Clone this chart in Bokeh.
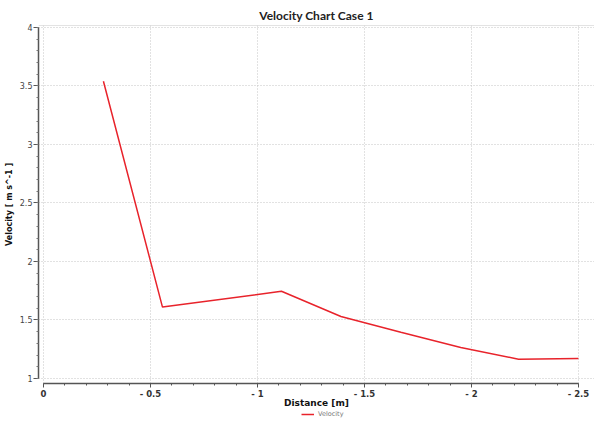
from bokeh.plotting import figure
from bokeh.layouts import column
from bokeh.models import Range1d, FixedTicker, Legend, LegendItem, Span
from bokeh.embed import file_html
from bokeh.resources import INLINE

# Data
distance = [-0.28, -0.556, -1.112, -1.39, -1.67, -1.95, -2.22, -2.5]
velocity = [3.54, 1.61, 1.745, 1.53, 1.395, 1.265, 1.165, 1.17]

x_ticks = [0, -0.5, -1.0, -1.5, -2.0, -2.5]
x_tick_labels = ["0", "- 0.5", "- 1", "- 1.5", "- 2", "- 2.5"]
x_minor = [-0.1 * i for i in range(26)]
y_ticks = [1, 1.5, 2, 2.5, 3, 3.5, 4]
y_minor = [1 + 0.1 * i for i in range(31)]
series_name = "Velocity"

p = figure(width=594, height=410, output_backend="svg", toolbar_location=None,
           x_range=Range1d(0.0234, -2.575), y_range=Range1d(0.957, 4.017),
           min_border_left=38, min_border_right=0, min_border_top=25, min_border_bottom=27)

p.title.text = "Velocity Chart Case 1"
p.title.align = "center"
p.title.vertical_align = "middle"
p.title.text_font = "Lato"
p.title.text_font_size = "12px"
p.title.text_font_style = "bold"
p.title.text_color = "#222222"
p.title.offset = 6
p.title.standoff = 4

p.outline_line_color = None
p.background_fill_color = "white"
p.border_fill_color = "white"

top_line = Span(location=4.017, dimension="width", line_color="#c8c8c8", line_width=1)
p.add_layout(top_line)

# grid
p.xgrid.ticker = FixedTicker(ticks=x_ticks)
p.ygrid.ticker = FixedTicker(ticks=y_ticks)
for g in (p.xgrid, p.ygrid):
    g.grid_line_color = "#c4c4c4"
    g.grid_line_dash = "1 2"
    g.grid_line_width = 1

# x axis
xa = p.xaxis[0]
xa.ticker = FixedTicker(ticks=x_ticks, minor_ticks=x_minor)
xa.major_label_overrides = {t: l for t, l in zip(x_ticks, x_tick_labels)}
xa.bounds = (-2.5, 0)
xa.axis_line_color = "#555555"
xa.axis_line_width = 1.5
xa.major_tick_in = 0
xa.major_tick_out = 4
xa.minor_tick_in = 0
xa.minor_tick_out = 2
xa.major_tick_line_color = "#555555"
xa.minor_tick_line_color = "#555555"
xa.major_label_text_font = "DejaVu Sans"
xa.major_label_text_font_style = "bold"
xa.major_label_text_font_size = "8.5px"
xa.major_label_text_color = "#333333"
xa.major_label_standoff = 1
xa.axis_label = "Distance [m]"
xa.axis_label_text_font = "DejaVu Sans"
xa.axis_label_text_font_style = "bold"
xa.axis_label_text_font_size = "9px"
xa.axis_label_text_color = "#111111"
xa.axis_label_standoff = -4

# y axis
ya = p.yaxis[0]
ya.ticker = FixedTicker(ticks=y_ticks, minor_ticks=y_minor)
ya.bounds = (1, 4)
ya.axis_line_color = "#555555"
ya.axis_line_width = 1.5
ya.major_tick_in = 0
ya.major_tick_out = 5
ya.minor_tick_in = 0
ya.minor_tick_out = 2
ya.major_tick_line_color = "#555555"
ya.minor_tick_line_color = "#777777"
ya.major_label_text_font = "DejaVu Sans"
ya.major_label_text_font_size = "8px"
ya.major_label_text_color = "#444444"
ya.major_label_standoff = 1
ya.axis_label = "Velocity [ m s^-1 ]"
ya.axis_label_text_font = "DejaVu Sans"
ya.axis_label_text_font_style = "bold"
ya.axis_label_text_font_size = "8px"
ya.axis_label_text_color = "#111111"
ya.axis_label_standoff = 3

line_color = "#e8232b"
r = p.line(distance, velocity, line_color=line_color, line_width=1.5)

# legend strip below the plot (series drawn out of this strip's view; only its legend shows)
p2 = figure(width=594, height=8, output_backend="svg", toolbar_location=None,
            x_range=Range1d(0, 1), y_range=Range1d(0, 1),
            x_axis_type=None, y_axis_type=None,
            min_border_left=0, min_border_right=0, min_border_top=0, min_border_bottom=0)
p2.grid.visible = False
p2.outline_line_color = None
p2.background_fill_color = "white"
p2.border_fill_color = "white"
r2 = p2.line(distance, velocity, line_color=line_color, line_width=1.5)
legend = Legend(items=[LegendItem(label=series_name, renderers=[r2])],
                location=(263, 0), orientation="horizontal",
                border_line_color=None, background_fill_alpha=0,
                label_text_font="DejaVu Sans", label_text_font_size="6.5px",
                label_text_color="#777777", glyph_width=13, glyph_height=6,
                label_standoff=4, padding=0, margin=0, spacing=0,
                label_height=6)
p2.add_layout(legend)

layout = column(p, p2, spacing=0)
open("out.html", "w").write(file_html(layout, INLINE))
